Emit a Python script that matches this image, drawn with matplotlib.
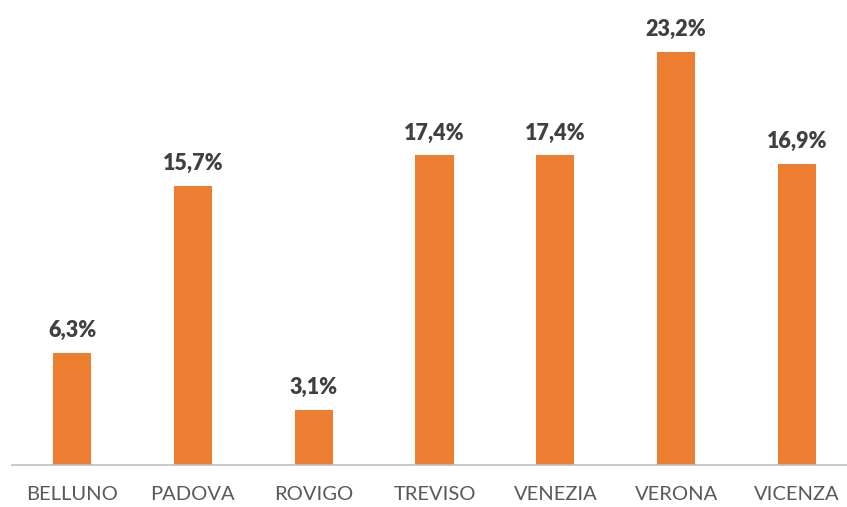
import matplotlib.pyplot as plt

provinces = ['BELLUNO', 'PADOVA', 'ROVIGO', 'TREVISO', 'VENEZIA', 'VERONA', 'VICENZA']
shares = [6.3, 15.7, 3.1, 17.4, 17.4, 23.2, 16.9]

plt.rcParams['font.family'] = ['Lato', 'DejaVu Sans']

fig = plt.figure(figsize=(8.47, 5.07), dpi=100)
ax = fig.add_axes([12 / 847, 42 / 507, 835 / 847, 445 / 507])

x = range(len(provinces))
bars = ax.bar(x, shares, width=0.315, color='#ED7D31')

for rect, v in zip(bars, shares):
    ax.annotate(f'{v:.1f}%'.replace('.', ','),
                (rect.get_x() + rect.get_width() / 2, rect.get_height()),
                xytext=(0, 8.5), textcoords='offset points',
                ha='center', va='bottom', fontsize=15.5, fontweight='heavy',
                color='#404040')

ax.set_xlim(-0.497, 6.414)
ax.set_ylim(0, 25)
ax.set_xticks(list(x))
ax.set_xticklabels(provinces, fontsize=14.5, color='#595959')
ax.tick_params(axis='x', length=0, pad=15)
ax.set_yticks([])
for side in ['top', 'right', 'left']:
    ax.spines[side].set_visible(False)
ax.spines['bottom'].set_color('#BFBFBF')
ax.spines['bottom'].set_linewidth(1.2)

fig.savefig('out.png', dpi=100)
